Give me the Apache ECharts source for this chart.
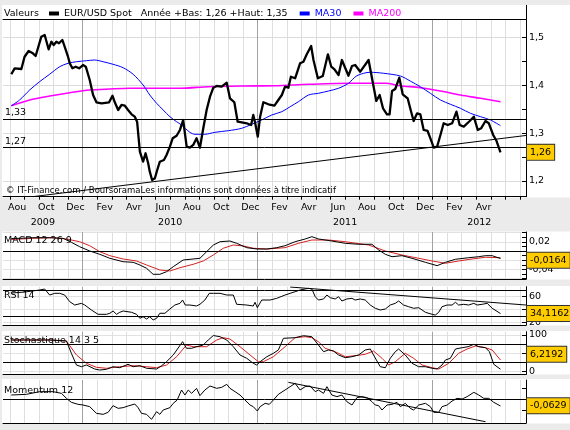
<!DOCTYPE html>
<html>
<head>
<meta charset="utf-8">
<script src="https://cdn.jsdelivr.net/npm/echarts@6.0.0/dist/echarts.min.js"></script>
<style>
  html, body { margin: 0; padding: 0; background: #ebebeb; }
  #chart { width: 570px; height: 430px; }
</style>
</head>
<body>
<div id="chart"></div>
<script>
// dates are months counted from Jan 2009 (12 = Jan 2010, 24 = Jan 2011 ...)
const monthNames = ['Jan', 'Fev', 'Mar', 'Avr', 'Mai', 'Jun', 'Jul', 'Aou', 'Sep', 'Oct', 'Nov', 'Dec'];
const labelMonths = [7, 9, 11, 13, 15, 17, 19, 21, 23, 25, 27, 29, 31, 33, 35, 37, 39];
const years = [2009, 2010, 2011, 2012];

const priceDates = [7.10, 7.33, 7.79, 8.01, 8.29, 8.58, 8.77, 8.89, 9.16, 9.39, 9.66, 9.85, 10.01, 10.19, 10.37, 10.60, 10.76, 10.99,
  11.11, 11.29, 11.52, 11.75, 12.02, 12.21, 12.48, 12.71, 12.94, 13.29, 13.81, 14.04, 14.20, 14.43, 14.66, 14.89, 15.11, 15.35,
  15.57, 15.73, 15.92, 16.14, 16.31, 16.49, 16.60, 16.76, 16.95, 17.11, 17.29, 17.57, 17.75, 17.98, 18.17, 18.44, 18.67, 18.89,
  19.13, 19.35, 19.58, 19.81, 20.04, 20.27, 20.50, 20.73, 20.96, 21.19, 21.53, 21.88, 22.10, 22.40, 22.63, 22.91, 23.25, 23.55,
  23.70, 23.82, 24.01, 24.17, 24.39, 24.74, 25.15, 25.42, 25.66, 25.88, 26.11, 26.28, 26.57, 26.91, 27.14, 27.37, 27.67, 27.83,
  28.13, 28.47, 28.82, 29.05, 29.27, 29.55, 29.78, 30.23, 30.47, 30.69, 31.04, 31.61, 31.91, 32.14, 32.37, 32.60, 32.87, 33.05,
  33.22, 33.44, 33.72, 33.95, 34.29, 34.48, 34.70, 34.94, 35.16, 35.39, 35.66, 35.85, 36.08, 36.31, 36.54, 36.76, 37.04, 37.34,
  37.64, 37.86, 38.14, 38.55, 38.83, 39.10, 39.33, 39.63, 39.86, 40.16, 40.39, 40.66];
const priceValues = [1.4234, 1.4359, 1.4345, 1.4602, 1.4721, 1.4673, 1.4617, 1.4742, 1.5021, 1.5056, 1.4757, 1.4916, 1.4847, 1.4916, 1.4883, 1.4952, 1.4811, 1.4602,
  1.4464, 1.4359, 1.4393, 1.4359, 1.4428, 1.4393, 1.4114, 1.3800, 1.3648, 1.3627, 1.3648, 1.3786, 1.3648, 1.3486, 1.3591, 1.3576, 1.3486, 1.3396,
  1.3346, 1.3241, 1.2613, 1.2404, 1.2580, 1.2371, 1.2195, 1.2021, 1.2057, 1.2230, 1.2404, 1.2440, 1.2544, 1.2718, 1.2894, 1.2948, 1.3068, 1.3277,
  1.2718, 1.2697, 1.2754, 1.2894, 1.2697, 1.3103, 1.3486, 1.3765, 1.3953, 1.3989, 1.3974, 1.4058, 1.3731, 1.3648, 1.3241, 1.3229, 1.3208, 1.3172,
  1.3382, 1.3229, 1.2927, 1.3346, 1.3648, 1.3606, 1.3576, 1.3696, 1.3800, 1.3974, 1.3953, 1.4183, 1.4150, 1.4464, 1.4497, 1.4652, 1.4826, 1.4533,
  1.4150, 1.4198, 1.4652, 1.4393, 1.4338, 1.4219, 1.4533, 1.4204, 1.4407, 1.4428, 1.4288, 1.4533, 1.4045, 1.3675, 1.3800, 1.3522, 1.3396, 1.3396,
  1.3884, 1.3926, 1.4162, 1.3815, 1.3731, 1.3507, 1.3256, 1.3417, 1.3396, 1.3068, 1.3047, 1.2894, 1.2697, 1.2718, 1.2963, 1.3208, 1.3172, 1.3208,
  1.3451, 1.3172, 1.3137, 1.3256, 1.3346, 1.3068, 1.3103, 1.3256, 1.3208, 1.2963, 1.2837, 1.2601];

const ma30Dates = [7.10, 7.67, 8.36, 9.04, 9.73, 10.42, 10.99, 11.57, 12.25, 12.82, 13.40, 14.08, 14.77, 15.46, 16.14, 16.60, 17.07, 17.52,
  17.98, 18.44, 18.78, 19.35, 19.70, 20.38, 21.07, 21.99, 22.91, 23.59, 24.28, 24.97, 25.66, 26.23, 26.80, 27.49, 28.17, 28.86,
  29.55, 30.23, 30.81, 31.73, 32.64, 33.79, 34.47, 35.16, 35.85, 36.54, 37.22, 37.91, 38.60, 39.29, 39.97, 40.66];
const ma30Values = [1.3576, 1.3696, 1.3905, 1.4079, 1.4234, 1.4393, 1.4464, 1.4497, 1.4518, 1.4533, 1.4497, 1.4443, 1.4372, 1.4234, 1.4010, 1.3800, 1.3627, 1.3486,
  1.3346, 1.3241, 1.3172, 1.3019, 1.2978, 1.2978, 1.3019, 1.3053, 1.3103, 1.3187, 1.3277, 1.3382, 1.3451, 1.3555, 1.3660, 1.3800, 1.3836, 1.3884,
  1.3941, 1.4045, 1.4204, 1.4276, 1.4255, 1.4198, 1.4093, 1.3974, 1.3836, 1.3696, 1.3606, 1.3522, 1.3417, 1.3346, 1.3277, 1.3158];

const ma200Dates = [7.10, 8.36, 9.73, 11.11, 12.48, 13.86, 15.23, 18.67, 20.61, 22.91, 25.20, 27.49, 30.47, 32.76, 33.79, 35.16, 36.54, 37.91, 39.29, 40.66];
const ma200Values = [1.3576, 1.3696, 1.3779, 1.3848, 1.3905, 1.3926, 1.3941, 1.3941, 1.3974, 1.3989, 1.3995, 1.4024, 1.4045, 1.4045, 1.3995, 1.3953, 1.3884, 1.3800, 1.3731, 1.3660];

const supportDates = [8.56, 42.41];
const supportValues = [1.1671, 1.2953];
const priceLevels = [1.33, 1.27];

const macdDates = [7.10, 7.67, 8.58, 9.73, 10.65, 11.22, 11.79, 12.48, 13.17, 13.86, 14.77, 15.46, 15.92, 16.38, 16.83, 17.29, 17.75, 18.21,
  18.89, 20.04, 20.50, 20.96, 21.42, 22.10, 22.56, 23.25, 23.94, 24.63, 25.31, 25.88, 26.57, 27.26, 27.72, 28.17, 29.09, 30.01,
  30.92, 31.84, 32.30, 32.76, 33.22, 33.90, 34.59, 35.51, 36.31, 36.88, 37.57, 38.48, 39.17, 39.63, 40.09, 40.66];
const macdValues = [0.0272, 0.0276, 0.0289, 0.0289, 0.0276, 0.0189, 0.0093, 0, -0.0072, -0.0159, -0.0233, -0.0246, -0.0304, -0.0376, -0.0507, -0.0507, -0.0450, -0.0341,
  -0.0196, -0.0159, -0.0015, 0.0130, 0.0202, 0.0217, 0.0167, 0.0072, 0.0043, 0.0043, 0.0072, 0.0115, 0.0202, 0.0261, 0.0311, 0.0261, 0.0217, 0.0167,
  0.0146, 0.0146, 0.0022, -0.0072, -0.0124, -0.0102, -0.0159, -0.0246, -0.0319, -0.0246, -0.0180, -0.0146, -0.0124, -0.0102, -0.0102, -0.0164];
const signalDates = [7.10, 8.58, 9.96, 10.88, 11.79, 12.48, 13.17, 13.86, 14.77, 15.69, 16.38, 17.29, 17.98, 18.67, 19.58, 20.27, 20.96, 21.64,
  22.33, 23.02, 23.71, 24.63, 25.88, 26.80, 27.72, 28.86, 30.01, 31.61, 32.76, 33.90, 35.05, 35.97, 36.88, 37.79, 38.71, 39.63, 40.66];
const signalValues = [0.0250, 0.0276, 0.0289, 0.0261, 0.0202, 0.0115, -0.0015, -0.0102, -0.0174, -0.0217, -0.0304, -0.0413, -0.0435, -0.0363, -0.0289, -0.0217, -0.0087, 0.0059,
  0.0130, 0.0109, 0.0059, 0.0043, 0.0072, 0.0167, 0.0239, 0.0239, 0.0202, 0.0130, 0, -0.0087, -0.0159, -0.0217, -0.0267, -0.0217, -0.0174, -0.0137, -0.0146];

const rsiDates = [7.10, 8.01, 9.04, 9.39, 9.73, 10.08, 10.42, 10.76, 11.11, 11.45, 11.91, 12.14, 12.60, 13.05, 13.63, 13.86, 14.08, 14.32,
  14.54, 14.77, 15.35, 15.69, 15.92, 16.14, 16.38, 16.60, 16.83, 17.07, 17.29, 17.64, 17.98, 18.32, 18.67, 18.85, 19.03, 19.35,
  19.81, 20.04, 20.38, 20.68, 20.96, 21.42, 21.88, 22.33, 22.56, 23.25, 23.70, 23.82, 23.98, 24.28, 24.85, 25.31, 25.88, 26.23,
  26.57, 26.91, 27.49, 27.72, 27.95, 28.17, 28.52, 28.75, 28.98, 29.32, 29.55, 29.78, 30.12, 30.47, 30.69, 31.04, 31.38, 31.73,
  32.07, 32.41, 32.76, 33.10, 33.44, 33.67, 34.01, 34.36, 34.70, 35.05, 35.51, 35.97, 36.19, 36.42, 36.65, 37.00, 37.34, 37.57,
  37.79, 38.14, 38.48, 38.83, 39.06, 39.40, 39.75, 40.09, 40.66];
const rsiValues = [65.7, 67.2, 70.3, 71.8, 62.6, 65.2, 65.2, 62.6, 52.3, 47.2, 49.8, 47.2, 39.5, 32.9, 32.9, 34.5, 38.0, 32.9,
  36.0, 38.0, 36.0, 32.9, 26.8, 29.2, 25.7, 29.2, 24.2, 26.8, 34.5, 34.5, 41.1, 47.2, 49.8, 54.9, 47.2, 47.2,
  45.7, 48.3, 54.9, 65.2, 65.2, 65.2, 62.6, 62.6, 48.3, 47.2, 45.7, 51.4, 43.1, 54.9, 54.9, 57.5, 62.6, 65.2,
  67.7, 70.3, 72.9, 71.8, 60.0, 54.9, 56.5, 62.6, 58.5, 56.5, 60.0, 53.4, 56.5, 57.5, 54.9, 56.5, 54.9, 47.2,
  42.2, 39.5, 41.1, 47.2, 49.8, 53.4, 47.2, 44.6, 42.2, 43.1, 36.0, 32.9, 31.8, 36.0, 44.6, 47.2, 47.2, 51.4,
  47.2, 48.3, 47.2, 49.8, 47.2, 48.3, 49.8, 42.2, 34.1162];
const rsiTrendDates = [26.23, 42.41];
const rsiTrendValues = [74.9, 47.2];
const rsiLevels = [70, 30];

const stochKDates = [7.10, 9.73, 10.88, 11.22, 11.57, 11.91, 12.25, 12.82, 13.17, 13.63, 14.08, 14.54, 15.11, 15.46, 15.92, 16.38, 17.07, 17.41,
  17.75, 18.21, 18.85, 19.12, 19.47, 19.81, 20.27, 20.61, 20.96, 21.42, 21.88, 22.33, 22.79, 23.25, 23.70, 23.94, 24.17, 24.63,
  25.08, 25.42, 25.77, 25.88, 26.57, 27.14, 27.72, 28.17, 28.52, 28.86, 29.20, 29.55, 30.01, 30.47, 30.92, 31.38, 31.73, 31.95,
  32.41, 32.76, 33.10, 33.44, 33.67, 34.13, 34.59, 35.05, 35.51, 35.97, 36.31, 36.65, 36.88, 37.22, 37.57, 38.03, 38.44, 38.83,
  39.17, 39.63, 39.90, 40.20, 40.66];
const stochKValues = [86.3, 86.3, 83.6, 49.9, 17.8, 13.1, 17.8, 6.8, 4.1, 6.0, 13.1, 10.4, 19.7, 13.1, 15.9, 8.8, 6.8, 15.9,
  26.8, 45.2, 81.6, 63.6, 63.6, 67.9, 72.6, 86.3, 98.5, 95.3, 86.3, 67.9, 45.2, 36.2, 22.5, 17.8, 26.8, 40.5,
  49.9, 58.9, 91.0, 95.3, 92.6, 98.1, 95.3, 72.6, 54.2, 58.9, 56.2, 45.2, 37.8, 40.5, 45.2, 58.9, 61.6, 45.2,
  13.1, 10.4, 36.2, 54.2, 61.6, 45.2, 22.5, 13.1, 13.1, 8.8, 6.8, 17.8, 31.5, 36.2, 61.6, 65.2, 67.9, 74.5,
  67.9, 65.2, 54.2, 19.7, 6.2192];
const stochDDates = [7.10, 9.73, 10.88, 11.57, 12.25, 12.94, 13.63, 14.54, 15.46, 16.38, 17.07, 17.75, 18.44, 19.12, 19.58, 20.50, 21.19, 21.64,
  22.10, 22.79, 23.48, 24.05, 24.39, 25.08, 25.88, 26.57, 27.26, 27.72, 28.17, 28.63, 29.32, 30.01, 30.69, 31.38, 31.95, 32.53,
  32.99, 33.44, 34.13, 34.70, 35.28, 35.97, 36.42, 37.11, 37.79, 38.37, 38.94, 39.63, 40.09, 40.66];
const stochDValues = [86.3, 86.3, 83.6, 45.2, 22.5, 11.5, 8.8, 13.1, 15.9, 13.1, 10.4, 17.8, 40.5, 72.6, 67.9, 67.9, 86.3, 92.6,
  89.0, 67.9, 45.2, 26.8, 26.8, 40.5, 67.9, 92.6, 95.3, 92.6, 81.6, 63.6, 54.2, 40.5, 43.3, 47.1, 56.2, 36.2,
  17.8, 26.8, 49.9, 36.2, 17.8, 10.4, 6.8, 22.5, 49.9, 61.6, 69.9, 65.2, 58.9, 31.5];
const stochLevels = [75, 25];

const momDates = [7.10, 8.13, 9.04, 9.96, 10.54, 10.88, 11.22, 11.68, 12.02, 12.48, 12.94, 13.40, 13.74, 14.08, 14.43, 14.77, 15.11, 15.57,
  15.80, 16.03, 16.38, 16.72, 17.07, 17.29, 17.52, 17.98, 18.21, 18.48, 18.78, 19.01, 19.24, 19.47, 19.81, 20.04, 20.38, 20.73,
  21.19, 21.53, 21.88, 22.10, 22.45, 22.79, 23.13, 23.48, 23.70, 23.98, 24.17, 24.51, 24.80, 25.08, 25.42, 25.88, 26.23, 26.57,
  26.91, 27.26, 27.60, 27.95, 28.17, 28.52, 28.75, 29.09, 29.44, 29.78, 30.12, 30.47, 30.81, 31.16, 31.50, 31.84, 32.07, 32.30,
  32.53, 32.87, 33.22, 33.56, 33.79, 34.13, 34.47, 34.70, 35.05, 35.51, 35.85, 36.08, 36.42, 36.65, 37.00, 37.34, 37.68, 38.03,
  38.37, 38.83, 39.17, 39.51, 39.86, 40.20, 40.66];
const momValues = [0.036, 0.042, 0.066, 0.066, 0.051, 0.006, -0.030, -0.048, -0.054, -0.069, -0.129, -0.138, -0.120, -0.060, -0.084, -0.078, -0.063, -0.045,
  -0.078, -0.129, -0.138, -0.183, -0.114, -0.138, -0.099, -0.078, -0.039, -0.009, 0.081, 0.036, 0.081, 0.051, 0.096, 0.030, 0.081, 0.117,
  0.096, 0.105, 0.132, 0.096, 0.066, 0.036, -0.009, -0.054, -0.069, -0.108, -0.069, -0.039, -0.048, -0.009, 0.042, 0.081, 0.111, 0.141,
  0.081, 0.111, 0.117, 0.066, 0.081, 0.051, 0.111, 0.036, 0.021, 0.036, -0.024, -0.054, 0.012, 0.021, 0.012, -0.024, -0.054, -0.060,
  -0.099, -0.054, -0.048, -0.030, -0.069, -0.039, -0.084, -0.099, -0.054, -0.039, -0.069, -0.120, -0.120, -0.069, -0.054, -0.018, 0.006, 0,
  0.021, 0.060, 0.036, 0.006, 0.006, -0.030, -0.0629];
const momTrendDates = [26.11, 39.63];
const momTrendValues = [0.150, -0.2045];

// axis layout
const xMin = 6.53, xMax = 42.41;
const monthTicks = [];
for (let m = 7; m <= 42; m++) monthTicks.push(m);
// Aug is the first tick, January (index 5) gets the darker line
const vLineColors = monthTicks.slice(0, 12).map((m) => (m % 12 === 0 ? '#a3a3a3' : '#dedede'));
const yearPos = years.map((y) => {
  const s = Math.max((y - 2009) * 12, xMin);
  const e = Math.min((y - 2008) * 12, xMax);
  return (s + e) / 2;
});

const fr = (v, d) => v.toFixed(d).replace('.', ',');
const pairs = (xs, ys) => xs.map((x, i) => [x, ys[i]]);
const last = (a) => a[a.length - 1];

const thisYear = priceValues.filter((v, i) => priceDates[i] >= 36);
const yearLow = Math.min.apply(null, thisYear);
const yearHigh = Math.max.apply(null, thisYear);

const FONT = 'DejaVu Sans';

function xAxisFor(grid) {
  return {
    type: 'value', gridIndex: grid, min: xMin, max: xMax, position: 'bottom',
    axisLine: { onZero: false, lineStyle: { color: '#000', width: 1 } },
    axisTick: { show: false, customValues: monthTicks },
    axisLabel: { show: false },
    splitLine: { show: true, customValues: monthTicks, lineStyle: { color: vLineColors, width: 1 } }
  };
}

function yAxisFor(grid, min, max, ticks, labels, splitColors) {
  return {
    type: 'value', gridIndex: grid, position: 'right', min: min, max: max,
    axisLine: { show: true, lineStyle: { color: '#000', width: 1 } },
    axisTick: { show: true, inside: true, length: 4, customValues: ticks, lineStyle: { color: '#000' } },
    axisLabel: { show: true, customValues: labels, margin: 3, color: '#000', fontSize: 9.5, fontFamily: FONT,
      formatter: (v) => String(v).replace('.', ',') },
    splitLine: { show: !!splitColors, customValues: ticks, lineStyle: { color: splitColors || '#ddd', width: 1 } }
  };
}

function valueBox(v, digits, dy) {
  return {
    yAxis: v,
    lineStyle: { color: 'rgba(0,0,0,0)', width: 0 },
    label: {
      show: true, position: 'end', distance: 1, formatter: fr(v, digits),
      backgroundColor: '#ffcc00', borderColor: '#333', borderWidth: 1, padding: [3, 3, 2, 3],
      color: '#000', fontSize: 9.5, fontFamily: FONT, offset: [0, dy || 0]
    }
  };
}

function marks(levels, box, withLabels) {
  const data = levels.map((v) => ({
    yAxis: v,
    label: withLabels
      ? { show: true, position: 'insideStartTop', distance: [2, 1], formatter: fr(v, 2), color: '#000', fontSize: 9.5, fontFamily: FONT }
      : { show: false }
  }));
  data.push(box);
  return { symbol: 'none', silent: true, animation: false, lineStyle: { color: '#000', width: 1, type: 'solid' }, data: data };
}

function line(name, xi, yi, xs, ys, color, width, extra) {
  return Object.assign({
    name: name, type: 'line', xAxisIndex: xi, yAxisIndex: yi, data: pairs(xs, ys),
    symbol: 'none', showSymbol: false, silent: true, animation: false,
    lineStyle: { color: color, width: width, join: 'round' }, itemStyle: { color: color }
  }, extra || {});
}

const panels = [[5, 197.5], [231.5, 279.5], [286, 325.5], [331, 374.5], [379, 423.5]];

const titleStyle = { fontSize: 9.5, fontWeight: 'normal', color: '#000', fontFamily: FONT };
const titles = [
  { text: 'Valeurs', left: 4, top: 8.5 },
  { text: '© IT-Finance.com / BoursoramaLes informations sont données à titre indicatif', left: 6, top: 186, textStyle: Object.assign({}, titleStyle, { fontSize: 8.5 }) },
  { text: 'MACD 12 26 9', left: 4, top: 236 },
  { text: 'RSI 14', left: 4, top: 290.5 },
  { text: 'Stochastique 14 3 5', left: 4, top: 336 },
  { text: 'Momentum 12', left: 4, top: 385.5 }
].map((t) => Object.assign({ padding: 0, textStyle: titleStyle }, t));

const option = {
  backgroundColor: '#ebebeb',
  animation: false,
  textStyle: { fontFamily: FONT, fontSize: 9.5 },
  title: titles,
  legend: {
    left: 49, top: 8.5, padding: 0, itemGap: 12, itemWidth: 10, itemHeight: 4, icon: 'rect',
    selectedMode: false,
    textStyle: { fontSize: 9.5, color: '#000', fontFamily: FONT },
    data: [
      { name: 'EUR/USD Spot' },
      { name: 'MA30', textStyle: { color: '#0000ff' } },
      { name: 'MA200', textStyle: { color: '#ff00ff' } }
    ],
    formatter: (name) => name === 'EUR/USD Spot'
      ? name + '   Année +Bas: ' + fr(yearLow, 2) + ' +Haut: ' + fr(yearHigh, 2)
      : name
  },
  graphic: panels.map((p) => ({
    type: 'rect', z: -10, silent: true,
    shape: { x: 2, y: p[0], width: 568, height: p[1] - p[0] },
    style: { fill: '#ffffff' }
  })).concat([{
    type: 'line', z: 10, silent: true,
    shape: { x1: 526.5, y1: 5, x2: 526.5, y2: 20 },
    style: { stroke: '#000', lineWidth: 1 }
  }]),
  grid: [
    { left: 3, right: 44, top: 19.5, height: 177.2 },
    { left: 3, right: 44, top: 232, height: 47 },
    { left: 3, right: 44, top: 286.7, height: 38.3 },
    { left: 3, right: 44, top: 331.7, height: 42.6 },
    { left: 3, right: 44, top: 380, height: 43 }
  ],
  xAxis: [
    Object.assign(xAxisFor(0), {
      axisTick: { show: true, length: 3, customValues: monthTicks, lineStyle: { color: '#000' } },
      axisLabel: { show: true, customValues: labelMonths.map((m) => m + 0.5), margin: 6, color: '#000', fontSize: 9.5, fontFamily: FONT,
        formatter: (v) => monthNames[Math.floor(v) % 12] }
    }),
    {
      type: 'value', gridIndex: 0, min: xMin, max: xMax, position: 'bottom',
      axisLine: { show: false }, axisTick: { show: false }, splitLine: { show: false },
      axisLabel: { show: true, customValues: yearPos, margin: 21, color: '#000', fontSize: 9.5, fontFamily: FONT,
        formatter: (v) => String(2009 + Math.floor(v / 12)) }
    },
    {
      type: 'value', gridIndex: 0, min: xMin, max: xMax, position: 'top',
      axisLine: { show: true, onZero: false, lineStyle: { color: '#000', width: 1 } },
      axisTick: { show: false }, axisLabel: { show: false }, splitLine: { show: false }
    },
    xAxisFor(1), xAxisFor(2), xAxisFor(3), xAxisFor(4)
  ],
  yAxis: [
    yAxisFor(0, 1.1671, 1.5381, [1.2, 1.25, 1.3, 1.35, 1.4, 1.45, 1.5], [1.2, 1.3, 1.4, 1.5], ['#dcdcdc', 'rgba(0,0,0,0)']),
    yAxisFor(1, -0.0609, 0.0413, [-0.06, -0.05, -0.04, -0.03, -0.02, -0.01, 0, 0.01, 0.02, 0.03, 0.04], [-0.04, 0.02], ['#e2e2e2', 'rgba(0,0,0,0)']),
    yAxisFor(2, 16.46, 75.4, [20, 40, 60], [20, 60], ['#e2e2e2']),
    yAxisFor(3, -7.68, 109.04, [0, 50, 100], [0, 100], ['#e2e2e2']),
    yAxisFor(4, -0.216, 0.171, [-0.1, 0, 0.1], [], null)
  ],
  series: [
    line('support', 0, 0, supportDates, supportValues, '#000', 1),
    line('MA200', 0, 0, ma200Dates, ma200Values, '#ff00ff', 1.6, { smooth: 0.3 }),
    line('MA30', 0, 0, ma30Dates, ma30Values, '#0000ff', 1, { smooth: 0.3 }),
    line('EUR/USD Spot', 0, 0, priceDates, priceValues, '#000', 2.3, {
      markLine: marks(priceLevels, valueBox(last(priceValues), 2), true)
    }),
    line('Signal', 3, 1, signalDates, signalValues, '#d42222', 1),
    line('MACD', 3, 1, macdDates, macdValues, '#000', 1, {
      markLine: marks([0], valueBox(last(macdValues), 4), false)
    }),
    line('RSI trend', 4, 2, rsiTrendDates, rsiTrendValues, '#000', 1),
    line('RSI', 4, 2, rsiDates, rsiValues, '#000', 1, {
      markLine: marks(rsiLevels, valueBox(last(rsiValues), 4), false)
    }),
    line('%D', 5, 3, stochDDates, stochDValues, '#d42222', 1),
    line('%K', 5, 3, stochKDates, stochKValues, '#000', 1, {
      markLine: marks(stochLevels, valueBox(last(stochKValues), 4, -15), false)
    }),
    line('Momentum trend', 6, 4, momTrendDates, momTrendValues, '#000', 1),
    line('Momentum', 6, 4, momDates, momValues, '#000', 1, {
      markLine: marks([0], valueBox(last(momValues), 4), false)
    })
  ]
};

const chart = echarts.init(document.getElementById('chart'));
chart.setOption(option);
</script>
</body>
</html>
